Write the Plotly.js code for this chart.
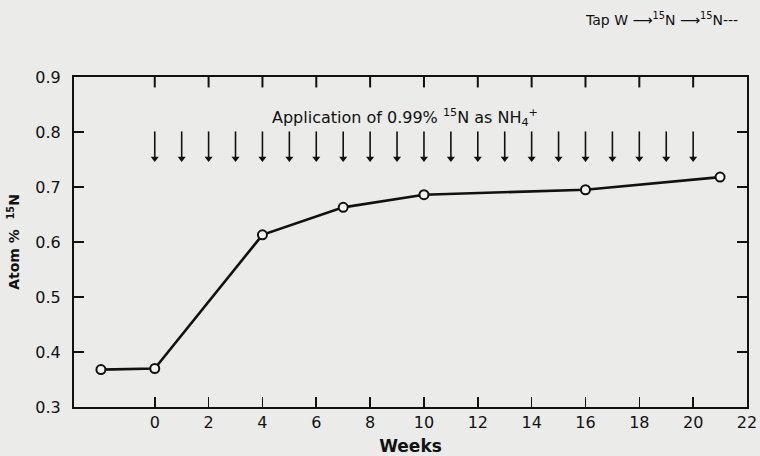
<!DOCTYPE html>
<html>
<head>
<meta charset="utf-8">
<script src="https://cdn.plot.ly/plotly-3.0.1.min.js"></script>
<style>html,body{margin:0;padding:0;background:#ebebea;}#chart{width:760px;height:456px;}</style>
</head>
<body>
<div id="chart"></div>
<script>
// Data
const weeks = [-2, 0, 4, 7, 10, 16, 21];
const atomPct15N = [0.368, 0.370, 0.613, 0.663, 0.686, 0.695, 0.718];
const applicationWeeks = [0,1,2,3,4,5,6,7,8,9,10,11,12,13,14,15,16,17,18,19,20];
const xTicks = [0,2,4,6,8,10,12,14,16,18,20,22];
const topTicks = [0,2,4,6,8,10,12,14,16,18,20];
const yTicks = [0.3,0.4,0.5,0.6,0.7,0.8,0.9];

const FONT = 'DejaVu Sans, Arial, sans-serif';
const ink = '#111';

// arrow shafts (line segments) and heads (triangle markers) at each application week
const ARROW_TOP = 0.801, ARROW_TIP = 0.752;
const shaftX = [], shaftY = [];
applicationWeeks.forEach(w => { shaftX.push(w, w, null); shaftY.push(ARROW_TOP, ARROW_TIP, null); });

// top-frame tick marks pointing down into the plot
const Y_MAX = 0.9, TOP_TICK_END = 0.881;
const tickX = [], tickY = [];
topTicks.forEach(w => { tickX.push(w, w, null); tickY.push(Y_MAX, TOP_TICK_END, null); });

const topTickTrace = {
  x: tickX, y: tickY, type: 'scatter', mode: 'lines', connectgaps: false,
  line: {color: ink, width: 2}, hoverinfo: 'skip'
};
const shafts = {
  x: shaftX, y: shaftY, type: 'scatter', mode: 'lines',
  line: {color: ink, width: 1.6}, hoverinfo: 'skip'
};
const heads = {
  x: applicationWeeks, y: applicationWeeks.map(() => ARROW_TIP), type: 'scatter', mode: 'markers',
  marker: {symbol: 'triangle-down', size: 7, color: ink, line: {width: 0}}, hoverinfo: 'skip'
};

const trace = {
  x: weeks, y: atomPct15N, type: 'scatter', mode: 'lines+markers',
  line: {color: ink, width: 2.6},
  marker: {symbol: 'circle', size: 9, color: '#f4f4f4', line: {color: ink, width: 2}},
  cliponaxis: false, hoverinfo: 'skip'
};

const layout = {
  width: 760, height: 456,
  paper_bgcolor: '#ebebea', plot_bgcolor: '#ebebea',
  margin: {l: 74, r: 13, t: 77, b: 49},
  showlegend: false,
  font: {family: FONT, color: ink, size: 16},
  xaxis: {
    range: [-3, 22], tickvals: xTicks, ticktext: xTicks.map(String),
    ticks: 'inside', ticklen: 10, tickwidth: 1.6, tickcolor: ink,
    showline: true, linewidth: 2, linecolor: ink, mirror: true,
    showgrid: false, zeroline: false,
    tickfont: {family: FONT, size: 16, color: ink},
    title: {text: '<b>Weeks</b>', font: {family: FONT, size: 17, color: ink}, standoff: 10}
  },
  yaxis: {
    range: [0.3, 0.9], tickvals: yTicks, ticktext: yTicks.map(v => v.toFixed(1)),
    ticks: 'inside', ticklen: 10, tickwidth: 1.6, tickcolor: ink,
    showline: true, linewidth: 2, linecolor: ink, mirror: 'ticks',
    showgrid: false, zeroline: false, ticklabelstandoff: 8,
    tickfont: {family: FONT, size: 16, color: ink},
    title: {text: '<b>Atom %  <sup>15</sup>N</b>', font: {family: FONT, size: 14, color: ink}, standoff: 12}
  },
  annotations: [
    {x: 9.3, y: 0.826, xref: 'x', yref: 'y', showarrow: false,
     text: 'Application of 0.99% <sup>15</sup>N as NH<sub>4</sub><sup>+</sup>',
     font: {family: FONT, size: 16, color: ink}},
    {x: 0.99, y: 1.175, xref: 'paper', yref: 'paper', xanchor: 'right', yanchor: 'middle', showarrow: false,
     text: 'Tap W ⟶<sup>15</sup>N ⟶<sup>15</sup>N---',
     font: {family: FONT, size: 14, color: ink}}
  ]
};

Plotly.newPlot('chart', [topTickTrace, shafts, heads, trace], layout, {displayModeBar: false, staticPlot: true});
</script>
</body>
</html>
